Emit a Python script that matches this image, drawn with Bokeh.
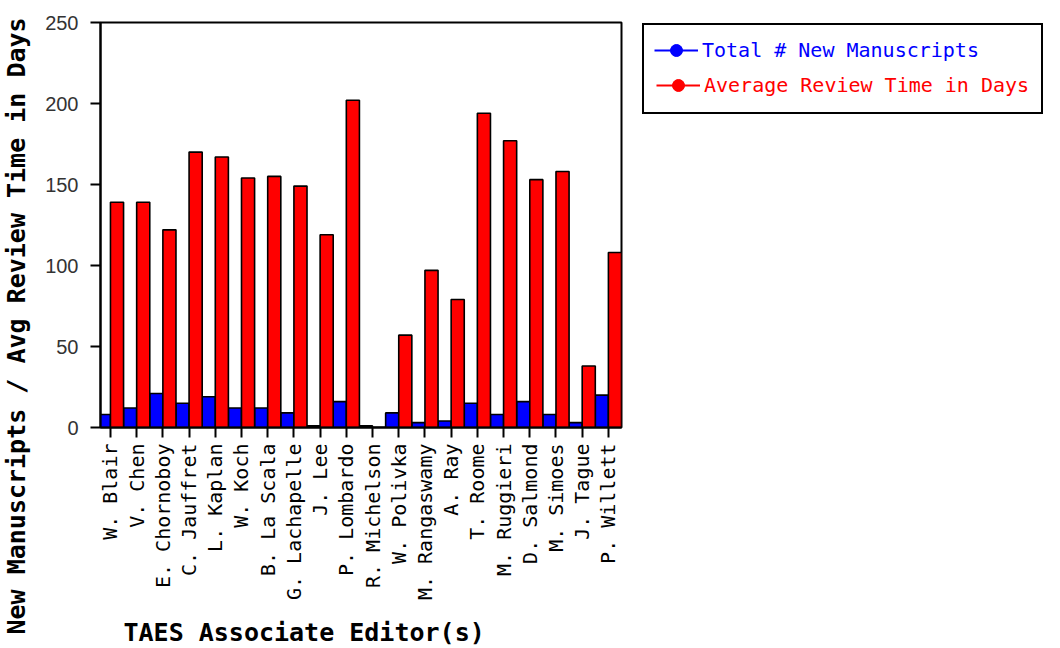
import math
from bokeh.plotting import figure
from bokeh.layouts import row
from bokeh.models import (Range1d, FixedTicker, Legend, LegendItem, Title,
                          ColumnDataSource)
from bokeh.transform import dodge
from bokeh.embed import file_html
from bokeh.resources import INLINE

categories = ["W. Blair", "V. Chen", "E. Chornoboy", "C. Jauffret", "L. Kaplan",
              "W. Koch", "B. La Scala", "G. Lachapelle", "J. Lee", "P. Lombardo",
              "R. Michelson", "W. Polivka", "M. Rangaswamy", "A. Ray", "T. Roome",
              "M. Ruggieri", "D. Salmond", "M. Simoes", "J. Tague", "P. Willett"]
new_manuscripts = [8, 12, 21, 15, 19, 12, 12, 9, 1, 16, 1, 9, 3, 4, 15, 8, 16, 8, 3, 20]
avg_review_days = [139, 139, 122, 170, 167, 154, 155, 149, 119, 202, 0, 57, 97, 79,
                   194, 177, 153, 158, 38, 108]
y_ticks = [0, 50, 100, 150, 200, 250]

xs = [i + 0.5 for i in range(len(categories))]
src = ColumnDataSource(dict(x=xs, cat=categories, nm=new_manuscripts, rt=avg_review_days))

MONO = "DejaVu Sans Mono"

p = figure(width=641, height=648, output_backend="svg", toolbar_location=None,
           x_range=Range1d(0.12, 20.0), y_range=Range1d(0, 250),
           min_border_left=100, min_border_right=20, min_border_top=22,
           min_border_bottom=221)
p.background_fill_color = "white"
p.border_fill_color = "white"
p.outline_line_color = "black"
p.outline_line_width = 2
p.outline_line_alpha = 1
p.grid.visible = False

p.vbar(x=dodge("x", -0.25), top="nm", width=0.5, source=src,
       fill_color="#0000ff", line_color="black", line_width=1.6)
p.vbar(x=dodge("x", 0.25), top="rt", width=0.5, source=src,
       fill_color="#ff0000", line_color="black", line_width=1.6)

# x axis
xa = p.xaxis[0]
xa.ticker = FixedTicker(ticks=xs)
xa.major_label_overrides = {x: c for x, c in zip(xs, categories)}
xa.major_label_orientation = math.pi / 2
xa.major_label_text_font = MONO
xa.major_label_text_font_size = "20px"
xa.major_label_text_color = "black"
xa.major_label_standoff = 6
xa.major_tick_out = 10
xa.major_tick_in = 0
xa.minor_tick_out = 0
xa.minor_tick_in = 0
xa.major_tick_line_width = 2
xa.axis_line_width = 2
xa.axis_line_color = "black"
# invisible spacer label to push the x title down
xa.axis_label = " "
xa.axis_label_text_font_size = "2px"
xa.axis_label_standoff = 9

ya = p.yaxis[0]
ya.ticker = FixedTicker(ticks=y_ticks)
ya.major_label_text_font = "Liberation Sans"
ya.major_label_text_font_size = "20px"
ya.major_label_text_color = "#333333"
ya.major_label_standoff = 12
ya.major_tick_out = 10
ya.major_tick_in = 0
ya.minor_tick_out = 0
ya.minor_tick_in = 0
ya.major_tick_line_width = 2
ya.axis_line_width = 2
ya.axis_line_color = "black"
# invisible spacer label to push the y title left
ya.axis_label = " "
ya.axis_label_text_font_size = "2px"
ya.axis_label_standoff = 4

# axis titles
p.add_layout(Title(text="New Manuscripts / Avg Review Time in Days", align="left",
                   vertical_align="top", offset=-207, standoff=0, text_font=MONO,
                   text_font_style="bold", text_font_size="25px",
                   text_color="black"), "left")
p.add_layout(Title(text="TAES Associate Editor(s)", align="left", vertical_align="top",
                   offset=23, standoff=0, text_font=MONO, text_font_style="bold",
                   text_font_size="25px", text_color="black"), "below")

# legend panel
lg = figure(width=419, height=648, output_backend="svg", toolbar_location=None,
            x_axis_type=None, y_axis_type=None, min_border=0,
            x_range=Range1d(-2, -1), y_range=Range1d(-2, -1))
lg.outline_line_color = None
lg.grid.visible = False
lg.background_fill_color = "white"
lg.border_fill_color = "white"

bl = lg.line(x=xs, y=new_manuscripts, line_color="#0000ff", line_width=2)
bd = lg.scatter(x=xs, y=new_manuscripts, size=14, fill_color="#0000ff",
                line_color="#0000ff")
rl = lg.line(x=xs, y=avg_review_days, line_color="#ff0000", line_width=2)
rd = lg.scatter(x=xs, y=avg_review_days, size=14, fill_color="#ff0000",
                line_color="#ff0000")
blank = lg.line(x=xs, y=new_manuscripts, line_alpha=0)

common = dict(padding=12, spacing=3, glyph_width=44, glyph_height=30,
              label_standoff=4, label_text_font=MONO, label_text_font_size="20px",
              margin=1, location="top_left")
legA = Legend(items=[LegendItem(label=" ", renderers=[blank]),
                     LegendItem(label="Average Review Time in Days", renderers=[rl, rd])],
              label_text_color="#ff0000",
              border_line_color="black", border_line_width=2, border_line_alpha=1,
              background_fill_color="white", background_fill_alpha=1, **common)
legB = Legend(items=[LegendItem(label="Total # New Manuscripts", renderers=[bl, bd])],
              label_text_color="#0000ff",
              border_line_alpha=0, background_fill_alpha=0, **common)
lg.add_layout(legA, "center")
lg.add_layout(legB, "center")

layout = row(p, lg, spacing=0)
open("out.html", "w").write(file_html(layout, INLINE))
